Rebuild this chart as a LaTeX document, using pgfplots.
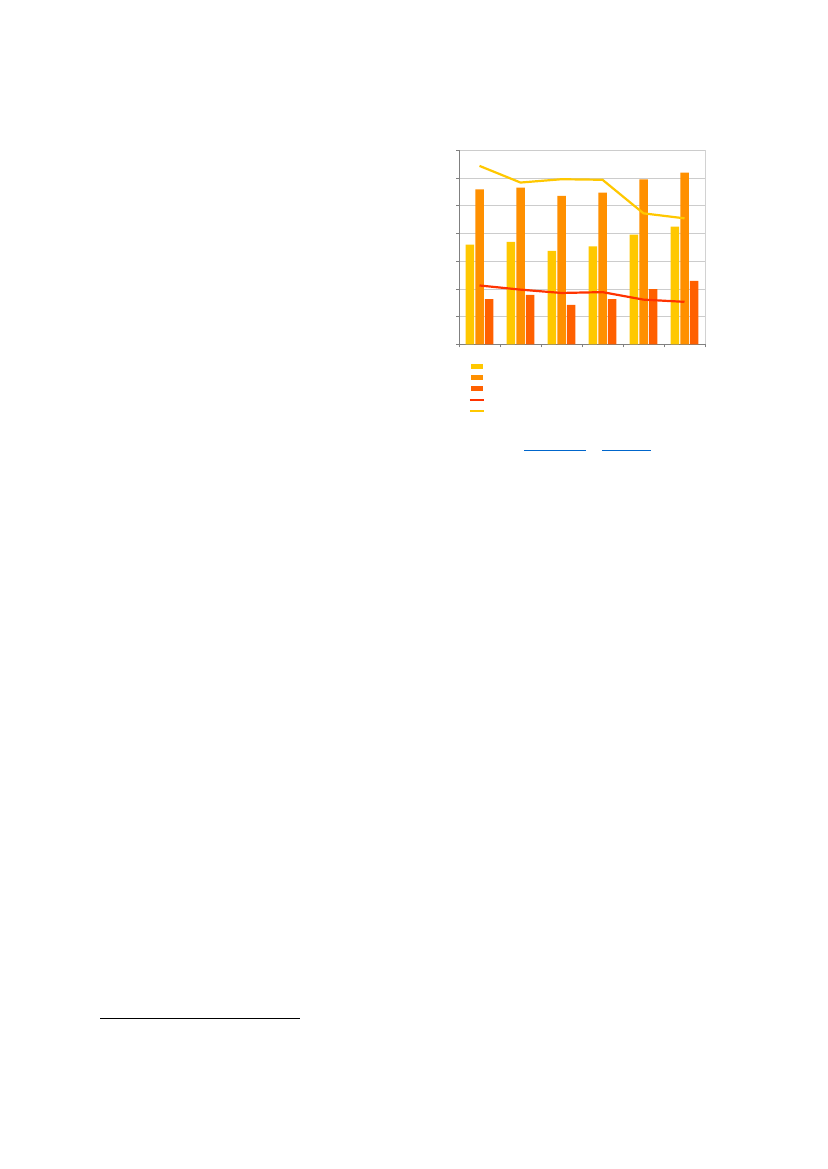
\documentclass[border=0pt]{standalone}
\usepackage{pgfplots}
\pgfplotsset{compat=1.18}
\definecolor{cYel}{HTML}{FFC800}
\definecolor{cOra}{HTML}{FF9000}
\definecolor{cRed}{HTML}{FF6000}
\definecolor{cLine}{HTML}{FF3300}
\definecolor{cLink}{HTML}{0066CC}
\begin{document}
\begin{tikzpicture}[x=1pt,y=1pt]
\path[use as bounding box, fill=white] (0,0) rectangle (827,1169);
\begin{axis}[
    at={(459pt,824.7pt)}, anchor=south west,
    scale only axis, width=246pt, height=194.2pt,
    xmin=0.5, xmax=6.5, ymin=0, ymax=7,
    xtick={0.5,1.5,...,6.5}, xticklabels={},
    ytick={0,...,7}, yticklabels={},
    ymajorgrids, grid style={gray!40, line width=0.6pt},
    axis x line*=bottom, axis y line*=left,
    axis line style={gray, line width=0.8pt, -},
    tick align=outside, major tick length=3pt,
    tick style={gray, line width=0.6pt},
    clip=false,
    legend style={at={(axis description cs:0.04,-0.083)}, anchor=north west,
        draw=none, fill=none, inner sep=0pt, outer sep=0pt, row sep=0pt,
        column sep=0pt, nodes={inner sep=0pt, minimum height=11.3pt, text width=0pt}},
    legend cell align=left,
]
\draw[gray!35, line width=0.6pt] (rel axis cs:1,0) -- (rel axis cs:1,1);
\addplot[ybar, bar width=8.5pt, bar shift=-9.7pt, fill=cYel, draw=none,
    legend image code/.code={\fill[cYel] (1pt,-2.5pt) rectangle (13pt,2.5pt);}]
    coordinates {(1,3.59) (2,3.69) (3,3.37) (4,3.53) (5,3.95) (6,4.24)};
\addlegendentry{\mbox{}}
\addplot[ybar, bar width=8.5pt, bar shift=0pt, fill=cOra, draw=none,
    legend image code/.code={\fill[cOra] (1pt,-2.5pt) rectangle (13pt,2.5pt);}]
    coordinates {(1,5.58) (2,5.65) (3,5.35) (4,5.47) (5,5.94) (6,6.19)};
\addlegendentry{\mbox{}}
\addplot[ybar, bar width=8.5pt, bar shift=9.7pt, fill=cRed, draw=none,
    legend image code/.code={\fill[cRed] (1pt,-2.5pt) rectangle (13pt,2.5pt);}]
    coordinates {(1,1.63) (2,1.78) (3,1.42) (4,1.63) (5,1.99) (6,2.29)};
\addlegendentry{\mbox{}}
\addplot[sharp plot, mark=none, color=cLine, line width=2.2pt,
    legend image code/.code={\draw[cLine, line width=2.2pt] (0pt,0pt) -- (14pt,0pt);}]
    coordinates {(1,2.12) (2,1.97) (3,1.85) (4,1.88) (5,1.61) (6,1.53)};
\addlegendentry{\mbox{}}
\addplot[sharp plot, mark=none, color=cYel, line width=2.2pt,
    legend image code/.code={\draw[cYel, line width=2.2pt] (0pt,0pt) -- (14pt,0pt);}]
    coordinates {(1,6.43) (2,5.83) (3,5.95) (4,5.93) (5,4.72) (6,4.54)};
\addlegendentry{\mbox{}}
\end{axis}
\draw[cLink, line width=0.9pt] (524,718.7) -- (586,718.7);
\draw[cLink, line width=0.9pt] (602,718.7) -- (651,718.7);
\draw[black, line width=0.9pt] (100,150.7) -- (300,150.7);
\end{tikzpicture}
\end{document}
